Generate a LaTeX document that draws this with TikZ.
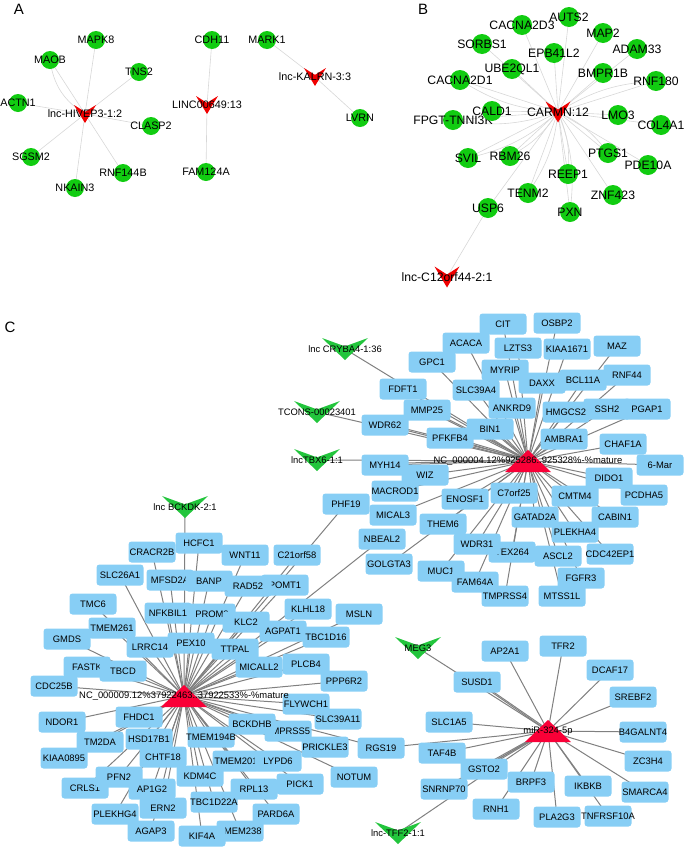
\documentclass[tikz,border=0pt]{standalone}
\usepackage{fontspec}
\setmainfont{Liberation Sans}
\usetikzlibrary{calc}
\pgfdeclarelayer{bg}
\pgfsetlayers{bg,main}
\definecolor{dotgreen}{RGB}{17,204,17}
\definecolor{veered}{RGB}{240,0,0}
\definecolor{hubred}{RGB}{250,0,55}
\definecolor{veegreen}{RGB}{34,197,60}
\definecolor{boxblue}{RGB}{135,206,245}
\definecolor{lightedge}{RGB}{215,215,215}
\definecolor{darkedge}{RGB}{128,128,128}
\tikzset{
  alab/.style={font=\fontsize{10.8}{12}\selectfont, inner sep=0},
  blab/.style={font=\fontsize{12.2}{13}\selectfont, inner sep=0},
  clab/.style={font=\fontsize{9.4}{10}\selectfont, inner sep=0},
  panel/.style={font=\fontsize{15}{16}\selectfont, inner sep=0},
  adot/.style={circle, fill=dotgreen, minimum size=18, inner sep=0, label={[alab]center:#1}},
  bdot/.style={circle, fill=dotgreen, minimum size=20, inner sep=0, label={[blab]center:#1}},
  vshape/.style={inner sep=0, path picture={\fill[#1] (path picture bounding box.north west)
      -- ($(path picture bounding box.north)!0.38!(path picture bounding box.south)$)
      -- (path picture bounding box.north east) -- (path picture bounding box.south) -- cycle;}},
  avee/.style={vshape=veered, minimum width=22, minimum height=18, label={[alab]center:#1}},
  bvee/.style={vshape=veered, minimum width=25, minimum height=21, label={[blab]center:#1}},
  cvee/.style={vshape=veegreen, minimum width=46, minimum height=22, label={[clab]center:#1}},
  hub/.style={inner sep=0, minimum width=46, minimum height=22,
    path picture={\fill[hubred] (path picture bounding box.south west) -- (path picture bounding box.north)
      -- (path picture bounding box.south east) -- cycle;}, label={[clab]center:#1}},
  gbox/.style={rectangle, rounded corners=3, fill=boxblue, minimum width=47, minimum height=21,
    inner sep=0, label={[clab]center:#1}},
  aedge/.style={draw=lightedge, line width=0.6},
  cedge/.style={draw=darkedge, line width=1}
}
\begin{document}
\begin{tikzpicture}[x=1pt,y=-1pt]
\useasboundingbox (0,0) rectangle (685,849);
\node[panel] (pa) at (19,9) {A};
\node[panel] (pb) at (423,9) {B};
\node[panel] (pc) at (10,327) {C};

\node[adot=MAPK8] (mapk8) at (96,40) {};
\node[adot=MAOB] (maob) at (50,60) {};
\node[adot=TNS2] (tns2) at (139,72) {};
\node[adot=ACTN1] (actn1) at (18,103) {};
\node[adot=CLASP2] (clasp2) at (151,126) {};
\node[adot=SGSM2] (sgsm2) at (31,157) {};
\node[adot=RNF144B] (rnf144b) at (123,173) {};
\node[adot=NKAIN3] (nkain3) at (75,188) {};
\node[adot=CDH11] (cdh11) at (212,40) {};
\node[adot=FAM124A] (fam124a) at (206,172) {};
\node[adot=MARK1] (mark1) at (267,40) {};
\node[adot=LVRN] (lvrn) at (360,118) {};
\node[avee=lnc-HIVEP3-1:2] (hivep) at (85,114) {};
\node[avee=LINC00649:13] (linc649) at (207,105) {};
\node[avee=lnc-KALRN-3:3] (kalrn) at (315,77) {};

\node[bdot=AUTS2] (auts2) at (569,17) {};
\node[bdot=CACNA2D3] (cacna2d3) at (522,25) {};
\node[bdot=MAP2] (map2) at (603,33) {};
\node[bdot=SORBS1] (sorbs1) at (482,44) {};
\node[bdot=ADAM33] (adam33) at (637,49) {};
\node[bdot=EPB41L2] (epb41l2) at (554,53) {};
\node[bdot=UBE2QL1] (ube2ql1) at (512,69) {};
\node[bdot=BMPR1B] (bmpr1b) at (603,73) {};
\node[bdot=RNF180] (rnf180) at (656,81) {};
\node[bdot=CACNA2D1] (cacna2d1) at (460,80) {};
\node[bdot=FPGT-TNNI3K] (fpgt) at (453,120) {};
\node[bdot=CALD1] (cald1) at (492,111) {};
\node[bdot=LMO3] (lmo3) at (618,115) {};
\node[bdot=COL4A1] (col4a1) at (661,125) {};
\node[bdot=SVIL] (svil) at (468,158) {};
\node[bdot=RBM26] (rbm26) at (510,156) {};
\node[bdot=PTGS1] (ptgs1) at (608,153) {};
\node[bdot=PDE10A] (pde10a) at (648,165) {};
\node[bdot=REEP1] (reep1) at (568,174) {};
\node[bdot=TENM2] (tenm2) at (528,193) {};
\node[bdot=ZNF423] (znf423) at (613,195) {};
\node[bdot=USP6] (usp6) at (488,208) {};
\node[bdot=PXN] (pxn) at (570,212) {};
\node[bvee=CARMN:12] (carmn) at (558,112) {};
\node[bvee=lnc-C12orf44-2:1] (c12orf) at (447,277) {};

\node[gbox=CIT] (cit) at (503,324) {};
\node[gbox=OSBP2] (osbp2) at (557,323) {};
\node[gbox=ACACA] (acaca) at (466,343) {};
\node[gbox=LZTS3] (lzts3) at (518,348) {};
\node[gbox=KIAA1671] (kiaa1671) at (567,349) {};
\node[gbox=MAZ] (maz) at (617,346) {};
\node[gbox=GPC1] (gpc1) at (432,362) {};
\node[gbox=MYRIP] (myrip) at (505,370) {};
\node[gbox=RNF44] (rnf44) at (627,375) {};
\node[gbox=BCL11A] (bcl11a) at (583,380) {};
\node[gbox=DAXX] (daxx) at (542,383) {};
\node[gbox=SLC39A4] (slc39a4) at (476,390) {};
\node[gbox=FDFT1] (fdft1) at (403,389) {};
\node[gbox=ANKRD9] (ankrd9) at (512,408) {};
\node[gbox=PGAP1] (pgap1) at (647,409) {};
\node[gbox=SSH2] (ssh2) at (607,409) {};
\node[gbox=HMGCS2] (hmgcs2) at (566,412) {};
\node[gbox=MMP25] (mmp25) at (427,410) {};
\node[gbox=WDR62] (wdr62) at (385,425) {};
\node[gbox=BIN1] (bin1) at (490,429) {};
\node[gbox=PFKFB4] (pfkfb4) at (450,438) {};
\node[gbox=AMBRA1] (ambra1) at (564,439) {};
\node[gbox=CHAF1A] (chaf1a) at (623,444) {};
\node[gbox=6-Mar] (mar6) at (660,465) {};
\node[gbox=MYH14] (myh14) at (385,465) {};
\node[gbox=WIZ] (wiz) at (425,475) {};
\node[gbox=MACROD1] (macrod1) at (395,491) {};
\node[gbox=DIDO1] (dido1) at (609,478) {};
\node[gbox=ENOSF1] (enosf1) at (465,499) {};
\node[gbox=C7orf25] (c7orf25) at (514,493) {};
\node[gbox=CMTM4] (cmtm4) at (575,496) {};
\node[gbox=PCDHA5] (pcdha5) at (644,495) {};
\node[gbox=MICAL3] (mical3) at (393,515) {};
\node[gbox=THEM6] (them6) at (443,524) {};
\node[gbox=GATAD2A] (gatad2a) at (535,517) {};
\node[gbox=CABIN1] (cabin1) at (615,517) {};
\node[gbox=PLEKHA4] (plekha4) at (575,532) {};
\node[gbox=TEX264] (tex264) at (512,552) {};
\node[gbox=WDR31] (wdr31) at (477,544) {};
\node[gbox=ASCL2] (ascl2) at (558,556) {};
\node[gbox=CDC42EP1] (cdc42ep1) at (610,554) {};
\node[gbox=GOLGTA3] (golgta3) at (389,564) {};
\node[gbox=MUC1] (muc1) at (441,571) {};
\node[gbox=FAM64A] (fam64a) at (475,582) {};
\node[gbox=FGFR3] (fgfr3) at (581,578) {};
\node[gbox=TMPRSS4] (tmprss4) at (505,596) {};
\node[gbox=MTSS1L] (mtss1l) at (562,596) {};

\node[gbox=PHF19] (phf19) at (346,504) {};
\node[gbox=NBEAL2] (nbeal2) at (382,539) {};
\node[gbox=HCFC1] (hcfc1) at (199,543) {};
\node[gbox=CRACR2B] (cracr2b) at (152,552) {};
\node[gbox=WNT11] (wnt11) at (245,555) {};
\node[gbox=C21orf58] (c21orf58) at (297,555) {};
\node[gbox=SLC26A1] (slc26a1) at (120,575) {};
\node[gbox=MFSD2A] (mfsd2a) at (170,580) {};
\node[gbox=POMT1] (pomt1) at (285,585) {};
\node[gbox=RAD52] (rad52) at (248,586) {};
\node[gbox=BANP] (banp) at (209,581) {};
\node[gbox=TMC6] (tmc6) at (93,604) {};
\node[gbox=KLHL18] (klhl18) at (308,609) {};
\node[gbox=MSLN] (msln) at (359,614) {};
\node[gbox=PROM2] (prom2) at (212,614) {};
\node[gbox=NFKBIL1] (nfkbil1) at (168,613) {};
\node[gbox=KLC2] (klc2) at (246,622) {};
\node[gbox=TMEM261] (tmem261) at (112,628) {};
\node[gbox=AGPAT1] (agpat1) at (283,631) {};
\node[gbox=TBC1D16] (tbc1d16) at (326,637) {};
\node[gbox=GMDS] (gmds) at (67,639) {};
\node[gbox=PEX10] (pex10) at (191,643) {};
\node[gbox=LRRC14] (lrrc14) at (150,647) {};
\node[gbox=TTPAL] (ttpal) at (235,649) {};
\node[gbox=FASTK] (fastk) at (87,667) {};
\node[gbox=TBCD] (tbcd) at (123,671) {};
\node[gbox=MICALL2] (micall2) at (259,667) {};
\node[gbox=PLCB4] (plcb4) at (306,664) {};
\node[gbox=PPP6R2] (ppp6r2) at (344,681) {};
\node[gbox=CDC25B] (cdc25b) at (54,686) {};
\node[gbox=FLYWCH1] (flywch1) at (306,704) {};
\node[gbox=SLC39A11] (slc39a11) at (338,719) {};
\node[gbox=NDOR1] (ndor1) at (62,722) {};
\node[gbox=FHDC1] (fhdc1) at (139,717) {};
\node[gbox=TMPRSS5] (tmprss5) at (288,731) {};
\node[gbox=BCKDHB] (bckdhb) at (252,724) {};
\node[gbox=TM2DA] (tm2da) at (100,742) {};
\node[gbox=HSD17B1] (hsd17b1) at (149,739) {};
\node[gbox=TMEM194B] (tmem194b) at (211,737) {};
\node[gbox=PRICKLE3] (prickle3) at (325,747) {};
\node[gbox=KIAA0895] (kiaa0895) at (64,758) {};
\node[gbox=CHTF18] (chtf18) at (163,757) {};
\node[gbox=TMEM201] (tmem201) at (236,761) {};
\node[gbox=LYPD6] (lypd6) at (278,761) {};
\node[gbox=KDM4C] (kdm4c) at (200,776) {};
\node[gbox=NOTUM] (notum) at (354,777) {};
\node[gbox=CRLS1] (crls1) at (85,788) {};
\node[gbox=PFN2] (pfn2) at (119,777) {};
\node[gbox=AP1G2] (ap1g2) at (152,789) {};
\node[gbox=PICK1] (pick1) at (300,784) {};
\node[gbox=RPL13] (rpl13) at (254,789) {};
\node[gbox=TBC1D22A] (tbc1d22a) at (214,802) {};
\node[gbox=ERN2] (ern2) at (163,808) {};
\node[gbox=PLEKHG4] (plekhg4) at (115,814) {};
\node[gbox=PARD6A] (pard6a) at (276,814) {};
\node[gbox=AGAP3] (agap3) at (151,831) {};
\node[gbox=TMEM238] (tmem238) at (240,831) {};
\node[gbox=KIF4A] (kif4a) at (202,836) {};

\node[gbox=AP2A1] (ap2a1) at (505,651) {};
\node[gbox=TFR2] (tfr2) at (563,646) {};
\node[gbox=DCAF17] (dcaf17) at (610,670) {};
\node[gbox=SUSD1] (susd1) at (477,682) {};
\node[gbox=SREBF2] (srebf2) at (633,697) {};
\node[gbox=SLC1A5] (slc1a5) at (449,722) {};
\node[gbox=B4GALNT4] (b4galnt4) at (643,732) {};
\node[gbox=RGS19] (rgs19) at (381,748) {};
\node[gbox=TAF4B] (taf4b) at (442,753) {};
\node[gbox=ZC3H4] (zc3h4) at (648,761) {};
\node[gbox=SNRNP70] (snrnp70) at (444,789) {};
\node[gbox=GSTO2] (gsto2) at (484,769) {};
\node[gbox=BRPF3] (brpf3) at (531,782) {};
\node[gbox=IKBKB] (ikbkb) at (588,786) {};
\node[gbox=SMARCA4] (smarca4) at (645,792) {};
\node[gbox=RNH1] (rnh1) at (496,809) {};
\node[gbox=PLA2G3] (pla2g3) at (557,817) {};
\node[gbox=TNFRSF10A] (tnfrsf10a) at (608,816) {};

\node[hub=NC\_000004.12\%925286..925328\%-\%mature] (nc4) at (528,461) {};
\node[hub=NC\_000009.12\%37922463..37922533\%-\%mature] (nc9) at (184,696) {};
\node[hub=miR-324-5p] (mir) at (548,731) {};
\node[cvee=lnc CRYBA4-1:36] (cryba) at (345,349) {};
\node[cvee=TCONS-00023401] (tcons) at (317,412) {};
\node[cvee=lncTBX6-1:1] (tbx6) at (317,460) {};
\node[cvee=lnc BCKDK-2:1] (bckdk) at (185,507) {};
\node[cvee=MEG3] (meg3) at (418,648) {};
\node[cvee=lnc-TFF2-1:1] (tff2) at (398,833) {};

\begin{pgfonlayer}{bg}
\foreach \n in {mapk8,maob,tns2,actn1,clasp2,sgsm2,rnf144b,nkain3}
  \draw[aedge] (hivep.center) -- (\n.center);
\draw[aedge] (hivep.center) to[bend left=25] (maob.center);
\foreach \n in {cdh11,fam124a}
  \draw[aedge] (linc649.center) -- (\n.center);
\foreach \n in {mark1,lvrn}
  \draw[aedge] (kalrn.center) -- (\n.center);
\foreach \n in {auts2,cacna2d3,map2,sorbs1,adam33,epb41l2,ube2ql1,bmpr1b,rnf180,cacna2d1,cald1,lmo3,fpgt,col4a1,svil,rbm26,ptgs1,pde10a,reep1,tenm2,znf423,usp6,pxn}
  \draw[aedge] (carmn.center) -- (\n.center);
\foreach \n in {cacna2d1,fpgt,svil,rbm26,tenm2,reep1,pxn,ptgs1,rnf180}
  \draw[aedge] (carmn.center) to[bend left=14] (\n.center);
\draw[aedge] (usp6.center) -- (c12orf.center);

\foreach \n in {cit,osbp2,acaca,lzts3,kiaa1671,maz,gpc1,myrip,daxx,bcl11a,rnf44,slc39a4,fdft1,ankrd9,hmgcs2,ssh2,pgap1,mmp25,wdr62,pfkfb4,bin1,ambra1,chaf1a,mar6,myh14,wiz,macrod1,dido1,enosf1,c7orf25,cmtm4,pcdha5,mical3,them6,gatad2a,cabin1,plekha4,wdr31,tex264,ascl2,cdc42ep1,golgta3,muc1,fam64a,fgfr3,tmprss4,mtss1l,cryba,tcons,tbx6}
  \draw[cedge] (nc4.center) -- (\n.center);
\foreach \n in {wdr62,mmp25,pfkfb4,bin1,myh14}
  \draw[cedge, transform canvas={yshift=1.4pt}] (nc4.center) -- (\n.center);
\foreach \n in {phf19,nbeal2,c21orf58,hcfc1,wnt11,cracr2b,slc26a1,mfsd2a,banp,rad52,pomt1,klhl18,msln,tmc6,nfkbil1,prom2,klc2,agpat1,tbc1d16,tmem261,gmds,lrrc14,pex10,ttpal,fastk,tbcd,micall2,plcb4,ppp6r2,cdc25b,flywch1,slc39a11,ndor1,fhdc1,bckdhb,tmprss5,tm2da,hsd17b1,tmem194b,prickle3,kiaa0895,chtf18,tmem201,lypd6,rgs19,kdm4c,notum,pfn2,crls1,ap1g2,pick1,rpl13,tbc1d22a,ern2,plekhg4,pard6a,agap3,tmem238,kif4a,bckdk}
  \draw[cedge] (nc9.center) -- (\n.center);
\foreach \n in {ap2a1,tfr2,dcaf17,susd1,srebf2,slc1a5,b4galnt4,rgs19,taf4b,zc3h4,gsto2,brpf3,ikbkb,smarca4,snrnp70,rnh1,pla2g3,tnfrsf10a,meg3,tff2}
  \draw[cedge] (mir.center) -- (\n.center);
\foreach \n in {susd1,gsto2,snrnp70}
  \draw[cedge, transform canvas={yshift=1.4pt}] (mir.center) -- (\n.center);
\end{pgfonlayer}
\end{tikzpicture}
\end{document}
